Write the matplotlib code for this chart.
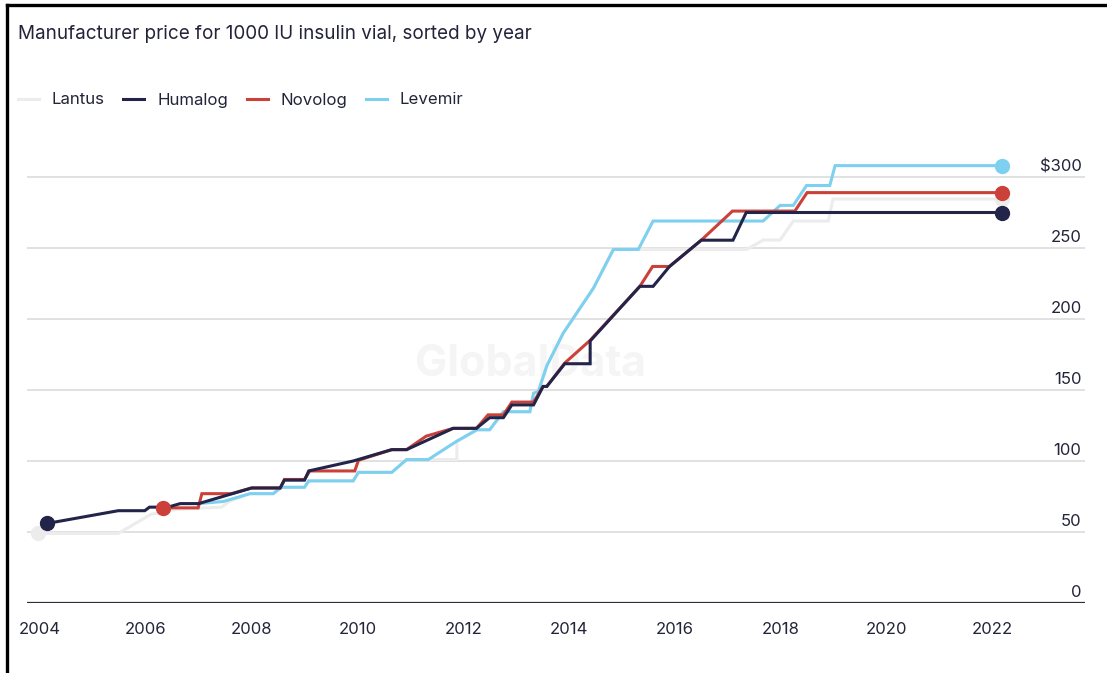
import matplotlib
matplotlib.use("Agg")
import matplotlib.pyplot as plt
import matplotlib.transforms as mtransforms
from matplotlib.lines import Line2D

plt.rcParams['font.family'] = ['Inter', 'DejaVu Sans']

# Data (year, price in $)
lantus_years = [2003.96, 2005.48, 2006.10, 2006.60, 2007.43, 2007.60, 2007.97, 2008.41, 2008.56, 2009.00,
                2009.08, 2009.92, 2010.02, 2010.65, 2010.93, 2011.88, 2011.88, 2012.26, 2012.50, 2012.76,
                2013.26, 2013.33, 2013.42, 2013.58, 2013.89, 2014.46, 2014.84, 2017.36, 2017.67, 2017.99,
                2018.24, 2018.90, 2018.99, 2022.19]
lantus_prices = [49, 49, 62.5, 66, 67.5, 72, 77, 77, 81.5, 81.5,
                 86, 86, 92, 92, 101, 101, 113.5, 122, 122, 134.7,
                 134.7, 147.7, 149, 167, 190, 221.6, 249, 249, 255.6, 255.6,
                 269, 269, 284.5, 284.5]

humalog_years = [2004.13, 2005.48, 2005.98, 2006.07, 2006.42, 2006.65, 2007.00, 2008.00, 2008.54, 2008.62,
                 2009.00, 2009.08, 2009.92, 2010.65, 2010.93, 2011.81, 2012.25, 2012.50, 2012.76, 2012.92,
                 2013.33, 2013.51, 2013.58, 2013.92, 2014.40, 2014.40, 2015.34, 2015.59, 2015.90, 2016.50,
                 2017.10, 2017.35, 2022.19]
humalog_prices = [56, 65, 65, 67.5, 67.5, 70, 70, 81, 81, 86.5,
                  86.5, 93, 100, 108, 108, 123, 123, 130.5, 130.5, 139.5,
                  139.5, 152.5, 152.5, 168.5, 168.5, 184.5, 223, 223, 237, 255.5,
                  255.5, 275, 275]

novolog_years = [2006.32, 2006.99, 2007.06, 2007.62, 2008.00, 2008.54, 2008.62, 2009.00, 2009.10, 2009.95,
                 2010.02, 2010.65, 2010.93, 2011.30, 2011.81, 2012.25, 2012.47, 2012.76, 2012.92, 2013.33,
                 2013.51, 2013.58, 2013.92, 2014.40, 2015.34, 2015.58, 2015.90, 2016.50, 2017.09, 2018.27,
                 2018.50, 2022.19]
novolog_prices = [67, 67, 77, 77, 81, 81, 87, 87, 93, 93,
                  100.5, 108, 108, 117.5, 123, 123, 132.5, 132.5, 141.5, 141.5,
                  152.5, 152.5, 169, 185, 223, 237, 237, 255.5, 276, 276,
                  289, 289]

levemir_years = [2007.00, 2007.47, 2007.97, 2008.41, 2008.56, 2009.00, 2009.08, 2009.92, 2010.02, 2010.65,
                 2010.93, 2011.34, 2011.88, 2012.26, 2012.50, 2012.76, 2013.26, 2013.33, 2013.42, 2013.58,
                 2013.89, 2014.46, 2014.84, 2015.31, 2015.59, 2017.67, 2017.99, 2018.24, 2018.49, 2018.93,
                 2019.03, 2022.19]
levemir_prices = [70, 71.5, 77, 77, 81.5, 81.5, 86, 86, 92, 92,
                  101, 101, 114, 122, 122, 134.7, 134.7, 147.7, 149, 167,
                  190, 221.6, 249, 249, 269, 269, 280, 280, 294, 294,
                  308, 308]

y_ticks = [0, 50, 100, 150, 200, 250, 300]
y_labels = ['0', '50', '100', '150', '200', '250', '$300']
x_ticks = list(range(2004, 2023, 2))

C_LANTUS = '#ececec'
C_HUMALOG = '#23244a'
C_NOVOLOG = '#cb4139'
C_LEVEMIR = '#7dd0ef'
TEXT = '#23243a'

W, H = 1107, 673
fig = plt.figure(figsize=(W / 100, H / 100), dpi=100)
fig.patch.set_facecolor('white')
ax = fig.add_axes([27 / W, 70 / H, (1085 - 27) / W, (603 - 140) / H])

px_year = 52.9
ax.set_xlim(2004 - 13 / px_year, 2004 + (1085 - 40) / px_year)
ax.set_ylim(0, (603 - 140) / 1.42)

# gridlines
for v in y_ticks[1:]:
    ax.axhline(v, color='#dcdcdc', linewidth=1.2, zorder=1)
ax.axhline(0, color='#2b2b3d', linewidth=1.6, zorder=6)

lw = 2.2
ax.plot(lantus_years, lantus_prices, color=C_LANTUS, linewidth=lw, zorder=2, solid_joinstyle='miter')
ax.plot(levemir_years, levemir_prices, color=C_LEVEMIR, linewidth=lw, zorder=3, solid_joinstyle='miter')
ax.plot(novolog_years, novolog_prices, color=C_NOVOLOG, linewidth=lw, zorder=4, solid_joinstyle='miter')
ax.plot(humalog_years, humalog_prices, color=C_HUMALOG, linewidth=lw, zorder=5, solid_joinstyle='miter')

# start / end dots
ms = 10
ax.plot(lantus_years[0], lantus_prices[0], 'o', color=C_LANTUS, ms=ms, zorder=7)
ax.plot(lantus_years[-1], lantus_prices[-1], 'o', color=C_LANTUS, ms=ms, zorder=7)
ax.plot(humalog_years[0], humalog_prices[0], 'o', color=C_HUMALOG, ms=ms, zorder=8)
ax.plot(novolog_years[0], novolog_prices[0], 'o', color=C_NOVOLOG, ms=ms, zorder=8)
ax.plot(novolog_years[-1], novolog_prices[-1], 'o', color=C_NOVOLOG, ms=ms, zorder=8)
ax.plot(humalog_years[-1], humalog_prices[-1], 'o', color=C_HUMALOG, ms=ms, zorder=8)
ax.plot(levemir_years[-1], levemir_prices[-1], 'o', color=C_LEVEMIR, ms=ms, zorder=8)

# watermark
ax.text(531 / W, 1 - 365 / H, 'GlobalData', transform=fig.transFigure, fontsize=31,
        fontweight='bold', color='#f5f5f5', ha='center', va='center', zorder=0.5)

# y labels on the right, sitting above gridlines
blend = mtransforms.blended_transform_factory(ax.transAxes, ax.transData)
for v, lab in zip(y_ticks, y_labels):
    ax.annotate(lab, xy=(1, v), xycoords=blend, xytext=(-2.5, 7.5), textcoords='offset points',
                ha='right', va='center', fontsize=12, color=TEXT)

ax.set_yticks([])
ax.set_xticks(x_ticks)
ax.set_xticklabels([str(x) for x in x_ticks], fontsize=12, color=TEXT)
ax.tick_params(axis='x', length=0, pad=14)
for s in ax.spines.values():
    s.set_visible(False)

# title
fig.text(18 / W, 1 - 34 / H, 'Manufacturer price for 1000 IU insulin vial, sorted by year',
         fontsize=13.6, color=TEXT, va='center', ha='left')

# legend
handles = [Line2D([], [], color=c, linewidth=lw) for c in (C_LANTUS, C_HUMALOG, C_NOVOLOG, C_LEVEMIR)]
fig.legend(handles, ['Lantus', 'Humalog', 'Novolog', 'Levemir'], loc='center left',
           bbox_to_anchor=(18 / W, 1 - 100 / H), ncol=4, frameon=False, fontsize=12.1,
           handlelength=1.25, handletextpad=0.75, columnspacing=1.12, borderpad=0,
           borderaxespad=0, labelcolor=TEXT)

# screenshot frame (top and left edges)
fig.add_artist(Line2D([7 / W, 7 / W], [0, 1 - 5 / H], color='black', linewidth=2.4, transform=fig.transFigure))
fig.add_artist(Line2D([7 / W, 1], [1 - 5 / H, 1 - 5 / H], color='black', linewidth=2.4, transform=fig.transFigure))

fig.savefig('out.png', dpi=100)
